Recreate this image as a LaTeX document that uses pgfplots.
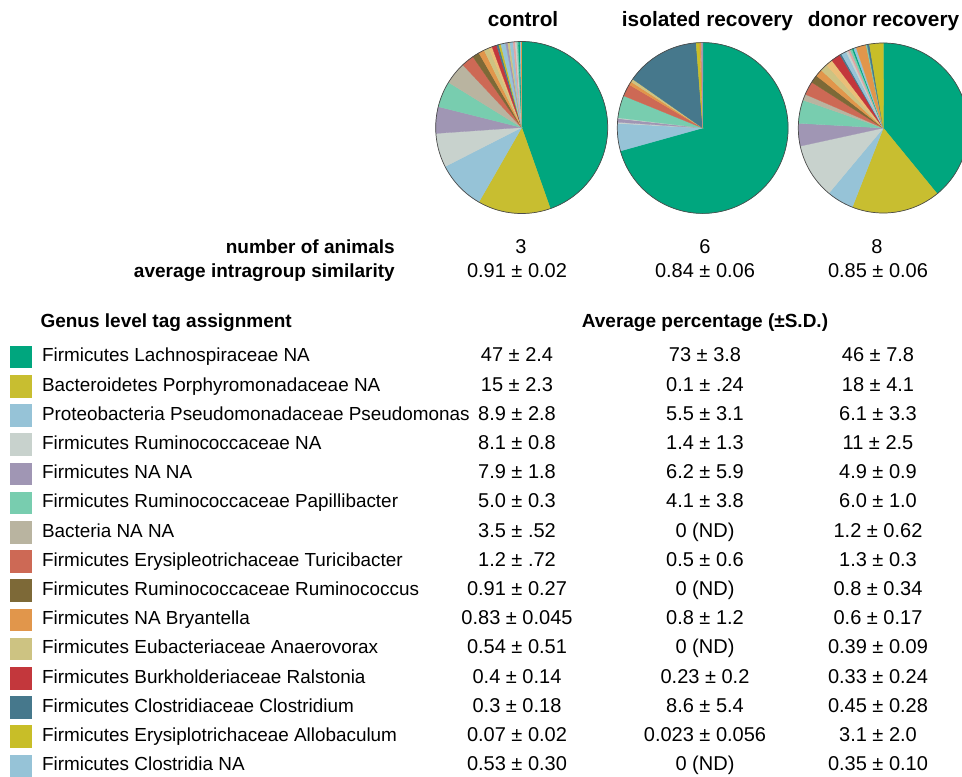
\documentclass[border=0pt]{standalone}
\usepackage{pgfplots}
\pgfplotsset{compat=1.18}
\usepackage{fontspec}
\setmainfont{Liberation Sans}

% slice / key colours
\definecolor{cLach}{RGB}{0,166,126}
\definecolor{cBact}{RGB}{200,190,48}
\definecolor{cPseu}{RGB}{150,195,215}
\definecolor{cRumi}{RGB}{200,210,205}
\definecolor{cFNA}{RGB}{160,150,180}
\definecolor{cPapi}{RGB}{120,205,175}
\definecolor{cBNA}{RGB}{185,180,160}
\definecolor{cTuri}{RGB}{205,105,85}
\definecolor{cRuco}{RGB}{125,105,55}
\definecolor{cBrya}{RGB}{225,150,75}
\definecolor{cAnae}{RGB}{205,195,130}
\definecolor{cRals}{RGB}{195,55,60}
\definecolor{cClos}{RGB}{70,120,140}
\definecolor{cAllo}{RGB}{200,190,40}
\definecolor{cCNA}{RGB}{150,195,215}
\definecolor{cPink}{RGB}{225,165,165}
\definecolor{cLora}{RGB}{235,190,120}

\newcommand\labf{\fontsize{18.9}{22}\selectfont}
\newcommand\numf{\fontsize{20}{24}\selectfont}
\newcommand\hdf{\fontsize{19}{22}\selectfont\bfseries}
\newcommand\ttlf{\fontsize{20.8}{24}\selectfont\bfseries}

% pie slices, clockwise from 12 o'clock: percent/colour
\def\pieControl{44.6/cLach, 13.7/cBact, 9.2/cPseu, 6.4/cRumi, 5.0/cFNA, 4.9/cPapi,
  4.2/cBNA, 2.4/cTuri, 1.3/cRuco, 1.1/cBrya, 1.0/cAnae, 0.6/cLora, 0.9/cRals,
  0.4/cClos, 0.4/cAllo, 0.9/cPseu, 0.4/cFNA, 0.4/cAnae, 0.6/cPseu, 0.4/cPink,
  0.3/cRumi, 0.3/cPapi, 0.3/cLach, 0.2/cPseu, 0.1/cBrya}
\def\pieIsolated{70.67/cLach, 5.19/cPseu, 0.22/cRumi, 0.69/cFNA, 0.14/cRumi,
  4.25/cPapi, 2.33/cTuri, 0.64/cBrya, 0.58/cAnae, 14.06/cClos, 0.67/cAllo,
  0.33/cBrya, 0.28/cFNA}
\def\pieDonor{39.08/cLach, 16.86/cBact, 5.14/cPseu, 10.5/cRumi, 4.31/cFNA,
  4.44/cPapi, 1.17/cBNA, 2.56/cTuri, 1.5/cRuco, 1.39/cBrya, 1.39/cAnae,
  1.33/cLora, 1.81/cRals, 0.33/cClos, 0.42/cPseu, 0.56/cCNA, 0.42/cRumi,
  0.42/cPink, 0.42/cPapi, 0.28/cLach, 0.5/cPseu, 1.92/cBrya, 0.22/cPapi,
  0.42/cClos, 2.64/cAllo}

% #1 cx, #2 cy, #3 radius, #4 slice list
\newcommand\pie[4]{%
  \xdef\acc{0}%
  \foreach \p/\c in #4 {%
    \pgfmathsetmacro\sa{\acc}%
    \pgfmathsetmacro\sb{\acc+3.6*\p}%
    \pgfmathtruncatemacro\ns{max(2,(\sb-\sa)/2+2)}%
    \edef\cmd{\noexpand\addplot[fill=\c, draw=\c, line width=0.3pt,
      domain=\sa:\sb, samples=\ns]
      ({#1+#3*sin(x)},{#2-#3*cos(x)}) -- (axis cs:#1,#2) -- cycle;}%
    \cmd
    \xdef\acc{\sb}%
  }%
  \addplot[black!70, line width=0.7pt, domain=0:360, samples=181]
    ({#1+#3*sin(x)},{#2-#3*cos(x)});
}

% #1 key centre y, #2 colour, #3 name, #4-#6 values
\newcommand\row[6]{%
  \addplot[only marks, mark=square*, mark size=10.8pt, color=#2]
    coordinates {(20.8,#1)};
  \node[anchor=base west, font=\labf, yshift=-5pt] at (axis cs:38.5,#1) {#3};
  \node[anchor=base, font=\numf, yshift=-5pt] at (axis cs:517,#1) {#4};
  \node[anchor=base, font=\numf, yshift=-5pt] at (axis cs:705,#1) {#5};
  \node[anchor=base, font=\numf, yshift=-5pt] at (axis cs:878,#1) {#6};
}

\begin{document}
\begin{tikzpicture}
\begin{axis}[
    x=1pt, y=1pt, y dir=reverse,
    xmin=0, xmax=962, ymin=0, ymax=776,
    hide axis, clip=true
]
\addplot[draw=none] coordinates {(0,0) (962,776)};

\pie{521.7}{127.5}{86}{\pieControl}
\pie{702.7}{128}{85.4}{\pieIsolated}
\pie{883.3}{128}{85}{\pieDonor}

\node[anchor=base, font=\ttlf] at (axis cs:523,26.5) {control};
\node[anchor=base, font=\ttlf] at (axis cs:707.5,26.5) {isolated recovery};
\node[anchor=base, font=\ttlf] at (axis cs:883.5,26.5) {donor recovery};

\node[anchor=base east, font=\hdf] at (axis cs:398.3,253) {number of animals};
\node[anchor=base east, font=\hdf] at (axis cs:398.3,277) {average intragroup similarity};
\node[anchor=base, font=\numf] at (axis cs:521,253) {3};
\node[anchor=base, font=\numf] at (axis cs:705,253) {6};
\node[anchor=base, font=\numf] at (axis cs:877,253) {8};
\node[anchor=base, font=\numf] at (axis cs:517,277) {0.91 ± 0.02};
\node[anchor=base, font=\numf] at (axis cs:705,277) {0.84 ± 0.06};
\node[anchor=base, font=\numf] at (axis cs:878,277) {0.85 ± 0.06};

\node[anchor=base west, font=\hdf] at (axis cs:37,327) {Genus level tag assignment};
\node[anchor=base, font=\hdf] at (axis cs:705,327) {Average percentage (±S.D.)};

\row{356.8}{cLach}{Firmicutes Lachnospiraceae NA}{47 ± 2.4}{73 ± 3.8}{46 ± 7.8}
\row{386.0}{cBact}{Bacteroidetes Porphyromonadaceae NA}{15 ± 2.3}{0.1 ± .24}{18 ± 4.1}
\row{415.2}{cPseu}{Proteobacteria Pseudomonadaceae Pseudomonas}{8.9 ± 2.8}{5.5 ± 3.1}{6.1 ± 3.3}
\row{444.4}{cRumi}{Firmicutes Ruminococcaceae NA}{8.1 ± 0.8}{1.4 ± 1.3}{11 ± 2.5}
\row{473.6}{cFNA}{Firmicutes NA NA}{7.9 ± 1.8}{6.2 ± 5.9}{4.9 ± 0.9}
\row{502.8}{cPapi}{Firmicutes Ruminococcaceae Papillibacter}{5.0 ± 0.3}{4.1 ± 3.8}{6.0 ± 1.0}
\row{532.0}{cBNA}{Bacteria NA NA}{3.5 ± .52}{0 (ND)}{1.2 ± 0.62}
\row{561.2}{cTuri}{Firmicutes Erysipleotrichaceae Turicibacter}{1.2 ± .72}{0.5 ± 0.6}{1.3 ± 0.3}
\row{590.4}{cRuco}{Firmicutes Ruminococcaceae Ruminococcus}{0.91 ± 0.27}{0 (ND)}{0.8 ± 0.34}
\row{619.6}{cBrya}{Firmicutes NA Bryantella}{0.83 ± 0.045}{0.8 ± 1.2}{0.6 ± 0.17}
\row{648.8}{cAnae}{Firmicutes Eubacteriaceae Anaerovorax}{0.54 ± 0.51}{0 (ND)}{0.39 ± 0.09}
\row{678.0}{cRals}{Firmicutes Burkholderiaceae Ralstonia}{0.4 ± 0.14}{0.23 ± 0.2}{0.33 ± 0.24}
\row{707.2}{cClos}{Firmicutes Clostridiaceae Clostridium}{0.3 ± 0.18}{8.6 ± 5.4}{0.45 ± 0.28}
\row{736.4}{cAllo}{Firmicutes Erysiplotrichaceae Allobaculum}{0.07 ± 0.02}{0.023 ± 0.056}{3.1 ± 2.0}
\row{765.6}{cCNA}{Firmicutes Clostridia NA}{0.53 ± 0.30}{0 (ND)}{0.35 ± 0.10}
\end{axis}
\end{tikzpicture}
\end{document}
